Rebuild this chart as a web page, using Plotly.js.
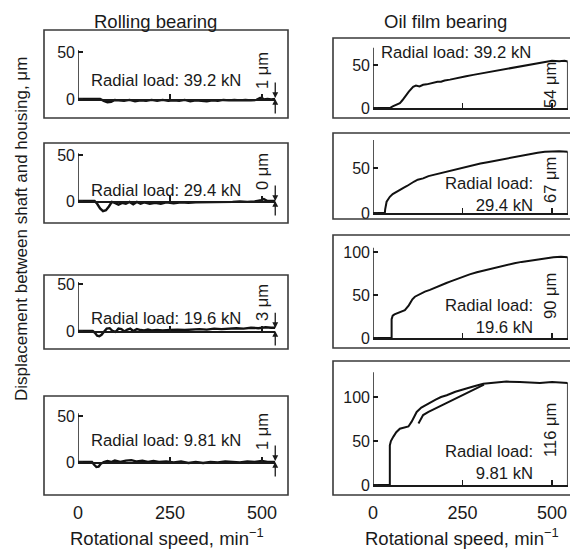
<!DOCTYPE html>
<html><head><meta charset="utf-8">
<script src="https://cdn.plot.ly/plotly-3.0.1.min.js"></script>
<style>html,body{margin:0;padding:0;background:#fff}#chart{width:570px;height:549px}</style>
</head><body><div id="chart"></div>
<script>
// ---------- DATA ----------
const loads = ['39.2 kN', '29.4 kN', '19.6 kN', '9.81 kN'];
const residualRolling = [1, 0, 3, 1];      // µm at max speed
const residualOil = [54, 67, 90, 116];     // µm at max speed
const xTickVals = [0, 250, 500];

// Rolling bearing
const rpmR1 = [0, 40, 60, 70, 80, 90, 100, 110, 125, 140, 155, 170, 185, 200, 215, 230, 245, 260, 275, 290, 305, 320, 335, 350, 365, 380, 395, 410, 425, 440, 455, 470, 485, 495, 500, 505, 515, 525, 536];
const dR1 = [0, 0, 0, -2, -3.5, -3, -1, -1.5, -2, -1, -2.5, -1.5, -2, -1, -2, -1, -2, -1.5, -2, -1, -2.5, -1.5, -2, -2.5, -1.5, -2, -1, -1.5, -1, -1.5, -1, -1.5, -1, 1, 1, -0.5, 0, -0.5, 0];
const rpmR2 = [0, 45, 52, 60, 68, 76, 84, 92, 100, 110, 120, 130, 140, 150, 160, 170, 180, 195, 210, 225, 240, 260, 280, 300, 320, 340, 360, 380, 400, 420, 440, 460, 480, 495, 505, 515, 525, 536];
const dR2 = [0, 0, -3, -8, -11, -10, -6, -1, -2, -4, -2, -3, -1, -3.5, -1, -3, -1.5, -3, -2, -3, -1.5, -2.5, -1.5, -2, -1.5, -1.5, -1, -1.5, -1, -1, -0.5, -1, -0.5, 0.5, 2, 0, 0, 0];
const rpmR3 = [0, 40, 46, 52, 58, 64, 70, 78, 86, 94, 102, 110, 118, 126, 134, 142, 150, 160, 170, 180, 190, 200, 215, 230, 250, 270, 290, 310, 330, 350, 370, 390, 410, 430, 450, 470, 490, 510, 525, 536];
const dR3 = [0, 0, -2, -5, -5.5, -4, -1, 2.5, 3, 0, -1, 2.5, 2, -0.5, 1.5, 2.5, 0, 2, 1, 0.5, 1.5, 0.5, 1, 0.5, 1, 1.5, 1, 1.5, 2, 1.5, 2.5, 2, 2.5, 3, 2.5, 3.5, 3, 4, 3.5, 3.5];
const rpmR4 = [0, 38, 44, 50, 56, 62, 70, 80, 90, 100, 115, 130, 145, 160, 175, 190, 205, 220, 240, 260, 280, 300, 320, 340, 360, 380, 400, 420, 440, 460, 480, 500, 515, 536];
const dR4 = [0, 0, -3, -5.5, -5, -2, 0, 1, 0, 1.5, 0, 1.5, 2, 0.5, 1.5, 0, 1, 0, 0.5, -0.5, 0.5, -1, 0, -1, 0, -0.5, 0.5, 0, -0.5, 0.5, 0, 1, 0, 0];

// Oil film bearing
const rpmO1 = [0, 47, 55, 65, 75, 82, 89, 100, 112, 120, 130, 140, 150, 160, 170, 180, 190, 200, 215, 230, 245, 260, 280, 300, 320, 340, 360, 380, 400, 420, 440, 460, 480, 500, 520, 535, 544];
const dO1 = [0, 0, 2, 4, 5.5, 9, 13, 19, 24.5, 26, 25, 27, 27.5, 28.5, 29, 30.5, 30.5, 32, 33, 34.5, 35.5, 37, 38.5, 40, 42, 43.5, 45, 46.5, 48, 49.5, 51, 52.5, 54, 55, 54.5, 55, 54];
const rpmO2 = [0, 33, 34, 36, 38, 42, 47, 55, 65, 75, 85, 95, 105, 115, 125, 140, 155, 170, 185, 200, 220, 240, 260, 280, 300, 320, 340, 360, 380, 400, 420, 440, 460, 480, 500, 520, 544];
const dO2 = [0, 0, 4, 9, 12.5, 15, 18, 21, 23.5, 25.5, 28, 30, 33, 35, 37, 38.5, 41, 42.5, 44, 45.5, 47, 49, 51, 53, 55, 56.5, 58, 60, 61.5, 63, 64.5, 66, 67, 68, 68.5, 68.5, 68];
const rpmO3 = [0, 52, 52, 55, 60, 66, 75, 89, 100, 110, 117, 125, 135, 145, 159, 175, 190, 205, 215, 230, 250, 270, 290, 310, 330, 350, 373, 395, 415, 439, 460, 480, 504, 525, 544];
const dO3 = [0, 0, 22, 26, 27.5, 28.5, 30, 32.5, 38, 45, 48, 50, 52, 54, 56, 59, 62, 64, 65.5, 68, 71, 74, 76.5, 78.5, 81, 83, 85, 87, 88.5, 90, 91.5, 92.5, 94, 94.5, 94];
const rpmO4a = [0, 47, 47, 50, 57, 65, 75, 87, 99, 108, 115, 122, 135, 147, 159, 175, 190, 206, 230, 252, 280, 308, 340, 373, 410, 440, 466, 500, 525, 544];
const dO4a = [0, 0, 45, 50, 55, 60, 64, 65.5, 66.5, 72, 78, 83, 88, 91, 93, 97, 100, 102, 106, 109, 112, 115, 116.5, 117.5, 117, 116.5, 116, 117, 116.5, 116];
const rpmO4b = [127, 133, 140, 155, 170, 187, 205, 225, 252, 270, 290, 310];
const dO4b = [70, 75, 79.5, 83, 86, 89, 93, 97, 102, 106, 110, 114];

// ---------- LAYOUT GEOMETRY (pixels) ----------
const W = 570, H = 549;
const px = p => p / W, py = p => 1 - p / H;
const cols = [
  {x0: 78, k: 0.368, rmax: 536, frame: [44, 288]},
  {x0: 373, k: 0.358, rmax: 544, frame: [333, 573]}
];
const rows = [
  // rolling
  [{y0: 99, k: 0.94, lo: -17, hi: 55, top: 52, tv: [0, 50], frame: [30, 118]},
   {y0: 201, k: 0.92, lo: -17, hi: 55, top: 52, tv: [0, 50], frame: [143, 223]},
   {y0: 331, k: 0.94, lo: -15, hi: 53, top: 52, tv: [0, 50], frame: [275, 349]},
   {y0: 462, k: 0.92, lo: -20, hi: 55, top: 53, tv: [0, 50], frame: [396, 495]}],
  // oil film
  [{y0: 108, k: 0.86, lo: -4, hi: 72, top: 70, tv: [0, 50], frame: [38, 118]},
   {y0: 213, k: 0.90, lo: -4, hi: 83, top: 81, tv: [0, 50], frame: [133, 219]},
   {y0: 338, k: 0.86, lo: -4, hi: 107, top: 105, tv: [0, 50, 100], frame: [235, 348]},
   {y0: 485, k: 0.88, lo: -4, hi: 130, top: 128, tv: [0, 50, 100], frame: [361, 495]}]
];

const rollingX = [rpmR1, rpmR2, rpmR3, rpmR4];
const rollingY = [dR1, dR2, dR3, dR4];
const oilX = [rpmO1, rpmO2, rpmO3, rpmO4a];
const oilY = [dO1, dO2, dO3, dO4a];

const FONT = 'Liberation Sans, Arial, sans-serif';
const INK = '#1a1a1a';
const traces = [], shapes = [], annotations = [];
const layout = {
  width: W, height: H, margin: {l: 0, r: 0, t: 0, b: 0},
  paper_bgcolor: '#fff', plot_bgcolor: 'rgba(0,0,0,0)',
  showlegend: false, font: {family: FONT, color: INK, size: 16}
};

let n = 0;
for (let c = 0; c < 2; c++) {
  for (let r = 0; r < 4; r++) {
    n++;
    const col = cols[c], row = rows[c][r];
    const xa = 'xaxis' + (n === 1 ? '' : n), ya = 'yaxis' + (n === 1 ? '' : n);
    const xr = 'x' + (n === 1 ? '' : n), yr = 'y' + (n === 1 ? '' : n);
    const bottom = r === 3;
    layout[xa] = {
      domain: [px(col.x0), px(col.x0 + col.rmax * col.k)],
      range: [0, col.rmax], anchor: 'free', position: py(row.y0),
      showline: true, linecolor: INK, linewidth: 1.5,
      ticks: 'inside', ticklen: 5, tickwidth: 1.3, tickcolor: INK,
      tickvals: xTickVals, showticklabels: bottom,
      ticklabelstandoff: c === 0 ? 34 : 11,
      tickfont: {size: 18, family: FONT, color: INK},
      showgrid: false, zeroline: false, fixedrange: true
    };
    layout[ya] = {
      domain: [py(row.y0 - row.lo * row.k), py(row.y0 - row.hi * row.k)],
      range: [row.lo, row.hi], anchor: xr,
      showline: false, ticks: 'inside', ticklen: 5, tickwidth: 1.3, tickcolor: INK,
      tickvals: row.tv, ticklabelstandoff: 2,
      tickfont: {size: 16, family: FONT, color: INK},
      showgrid: false, zeroline: false, fixedrange: true
    };
    // frame
    shapes.push({type: 'rect', xref: 'paper', yref: 'paper',
      x0: px(col.frame[0]), x1: px(col.frame[1]), y0: py(row.frame[1]), y1: py(row.frame[0]),
      line: {color: '#3a3a3a', width: 1.6}});
    // vertical axis line from 0 up
    shapes.push({type: 'line', xref: xr, yref: yr, x0: 0, x1: 0, y0: 0, y1: row.top,
      line: {color: INK, width: 1.5}});

    if (c === 0) {
      traces.push({type: 'scatter', mode: 'lines', x: rollingX[r], y: rollingY[r],
        xaxis: xr, yaxis: yr, line: {color: '#111', width: 2.4}, hoverinfo: 'skip'});
      const xe = rollingX[r][rollingX[r].length - 1];
      annotations.push({xref: xr, yref: yr, x: xe, y: residualRolling[r], ax: 0, ay: -18,
        showarrow: true, arrowhead: 2, arrowsize: 0.9, arrowwidth: 1.3, arrowcolor: INK, text: ' ',
        font: {size: 2}});
      annotations.push({xref: xr, yref: yr, x: xe, y: 0, ax: 0, ay: 17,
        showarrow: true, arrowhead: 2, arrowsize: 0.9, arrowwidth: 1.3, arrowcolor: INK, text: ' ',
        font: {size: 2}});
      annotations.push({xref: 'paper', yref: 'paper', x: px(166), y: py([81, 190, 318, 440][r]),
        xanchor: 'center', yanchor: 'middle', showarrow: false,
        text: 'Radial load: ' + loads[r], font: {size: 16.7, family: FONT, color: INK}});
      annotations.push({xref: 'paper', yref: 'paper', x: px(262), y: py([71, 172, 303, 432][r]),
        xanchor: 'center', yanchor: 'middle', showarrow: false, textangle: -90,
        text: residualRolling[r] + ' μm', font: {size: 16.5, family: FONT, color: INK}});
    } else {
      const xs = oilX[r], ys = oilY[r];
      traces.push({type: 'scatter', mode: 'lines', x: xs, y: ys,
        xaxis: xr, yaxis: yr, line: {color: '#111', width: 2}, hoverinfo: 'skip'});
      if (r === 3) {
        traces.push({type: 'scatter', mode: 'lines', x: rpmO4b, y: dO4b,
          xaxis: xr, yaxis: yr, line: {color: '#111', width: 2}, hoverinfo: 'skip'});
      }
      const xe = xs[xs.length - 1], ye = ys[ys.length - 1];
      traces.push({type: 'scatter', mode: 'lines', x: [xe, xe], y: [0, ye],
        xaxis: xr, yaxis: yr, line: {color: INK, width: 1.6}, hoverinfo: 'skip'});
      if (r === 0) {
        annotations.push({xref: 'paper', yref: 'paper', x: px(456), y: py(53),
          xanchor: 'center', yanchor: 'middle', showarrow: false,
          text: 'Radial load: ' + loads[r], font: {size: 16.7, family: FONT, color: INK}});
      } else {
        annotations.push({xref: 'paper', yref: 'paper', x: px(535), y: py([0, 194, 316.5, 462][r]),
          xanchor: 'right', yanchor: 'middle', align: 'right', showarrow: false,
          text: 'Radial load:<br>' + loads[r], font: {size: 16.7, family: FONT, color: INK}});
      }
      annotations.push({xref: 'paper', yref: 'paper', x: px(550), y: py([85, 180, 296, 430][r]),
        xanchor: 'center', yanchor: 'middle', showarrow: false, textangle: -90,
        text: residualOil[r] + ' μm', font: {size: 16.5, family: FONT, color: INK}});
    }
  }
}

// titles
annotations.push({xref: 'paper', yref: 'paper', x: px(155), y: py(22), xanchor: 'center', yanchor: 'middle',
  showarrow: false, text: 'Rolling bearing', font: {size: 18.5, family: FONT, color: INK}});
annotations.push({xref: 'paper', yref: 'paper', x: px(445), y: py(22), xanchor: 'center', yanchor: 'middle',
  showarrow: false, text: 'Oil film bearing', font: {size: 18.5, family: FONT, color: INK}});
annotations.push({xref: 'paper', yref: 'paper', x: px(167), y: py(551), xanchor: 'center', yanchor: 'bottom',
  showarrow: false, text: 'Rotational speed, min<sup>−1</sup>', font: {size: 18.5, family: FONT, color: INK}});
annotations.push({xref: 'paper', yref: 'paper', x: px(462), y: py(551), xanchor: 'center', yanchor: 'bottom',
  showarrow: false, text: 'Rotational speed, min<sup>−1</sup>', font: {size: 18.5, family: FONT, color: INK}});
annotations.push({xref: 'paper', yref: 'paper', x: px(22), y: py(229), xanchor: 'center', yanchor: 'middle',
  showarrow: false, textangle: -90, text: 'Displacement between shaft and housing, μm',
  font: {size: 17, family: FONT, color: INK}});

layout.shapes = shapes;
layout.annotations = annotations;
Plotly.newPlot('chart', traces, layout, {staticPlot: true, displayModeBar: false});
</script></body></html>
